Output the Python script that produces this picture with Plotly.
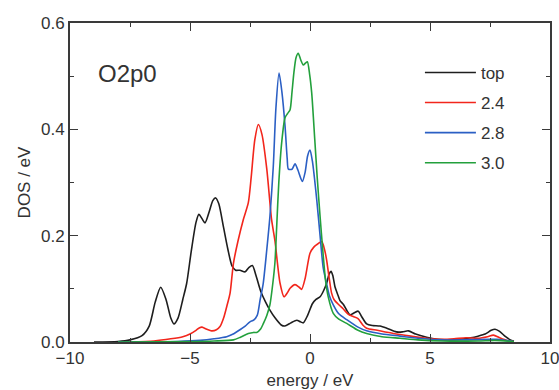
import plotly.graph_objects as go

# ---- data ----
top_x = [-9.0, -8.0, -7.5, -7.0, -6.7, -6.45, -6.22, -6.0, -5.8, -5.67, -5.5, -5.3, -5.14, -4.95, -4.75, -4.63,
         -4.5, -4.375, -4.2, -4.05, -3.93, -3.8, -3.6, -3.42, -3.25, -3.1, -2.92, -2.7, -2.55, -2.4, -2.25, -2.05,
         -1.85, -1.67, -1.45, -1.2, -1.05, -0.8, -0.55, -0.4, -0.28, -0.1, 0.1, 0.25, 0.42, 0.55, 0.69, 0.8, 0.875,
         0.95, 1.04, 1.15, 1.25, 1.4, 1.55, 1.67, 1.85, 2.01, 2.15, 2.36, 2.6, 2.92, 3.2, 3.6, 3.85, 4.1, 4.4, 4.86,
         5.3, 5.6, 6.2, 6.7, 7.0, 7.3, 7.55, 7.71, 7.9, 8.15, 8.4, 8.5]
top_y = [0.0, 0.001, 0.004, 0.012, 0.03, 0.075, 0.103, 0.08, 0.045, 0.034, 0.045, 0.08, 0.11, 0.17, 0.225, 0.24,
         0.232, 0.224, 0.245, 0.266, 0.271, 0.26, 0.215, 0.174, 0.143, 0.135, 0.135, 0.132, 0.14, 0.144, 0.125, 0.095,
         0.075, 0.060, 0.045, 0.032, 0.030, 0.036, 0.041, 0.038, 0.036, 0.05, 0.072, 0.08, 0.085, 0.095, 0.11, 0.128, 0.133,
         0.125, 0.104, 0.09, 0.078, 0.07, 0.058, 0.051, 0.055, 0.058, 0.048, 0.034, 0.031, 0.030, 0.026, 0.019, 0.019, 0.021,
         0.015, 0.009, 0.005, 0.004, 0.005, 0.008, 0.011, 0.015, 0.022, 0.024, 0.02, 0.01, 0.003, 0.002]

r24_x = [-7.5, -6.5, -5.8, -5.3, -5.0, -4.75, -4.6, -4.5, -4.3, -4.1, -3.9, -3.75, -3.6, -3.45, -3.33, -3.19, -3.0,
         -2.78, -2.57, -2.45, -2.3, -2.15, -2.0, -1.8, -1.6, -1.46, -1.25, -1.08, -0.95, -0.83, -0.625, -0.45, -0.35,
         -0.2, 0.0, 0.15, 0.28, 0.49, 0.6, 0.69, 0.8, 0.9, 1.0, 1.2, 1.39, 1.6, 1.8, 2.0, 2.2, 2.36, 2.8, 3.47, 4.2,
         4.86, 5.5, 6.0, 6.5, 7.0, 7.4, 7.64, 7.9, 8.2, 8.5]
r24_y = [0.0, 0.002, 0.006, 0.010, 0.015, 0.022, 0.027, 0.028, 0.024, 0.021, 0.023, 0.029, 0.045, 0.07, 0.092, 0.148,
         0.19, 0.230, 0.262, 0.31, 0.38, 0.409, 0.39, 0.325, 0.23, 0.19, 0.111, 0.085, 0.092, 0.101, 0.108, 0.103, 0.099,
         0.12, 0.167, 0.178, 0.183, 0.189, 0.175, 0.155, 0.12, 0.092, 0.08, 0.07, 0.062, 0.052, 0.048, 0.044, 0.032,
         0.026, 0.022, 0.016, 0.011, 0.007, 0.005, 0.006, 0.008, 0.007, 0.01, 0.013, 0.008, 0.003, 0.001]

r28_x = [-8.0, -5.5, -4.58, -4.0, -3.47, -3.2, -2.92, -2.7, -2.5, -2.35, -2.2, -2.08, -1.95, -1.8, -1.67, -1.53,
         -1.42, -1.29, -1.17, -1.04, -0.95, -0.9, -0.75, -0.625, -0.5, -0.32, -0.2, -0.1, 0.0, 0.1, 0.28, 0.42, 0.55,
         0.69, 0.8, 0.97, 1.2, 1.53, 2.0, 2.36, 3.0, 3.75, 4.5, 5.4, 6.5, 7.5, 7.8, 8.5]
r28_y = [0.0, 0.001, 0.003, 0.006, 0.010, 0.015, 0.023, 0.03, 0.038, 0.041, 0.05, 0.079, 0.11, 0.174, 0.236, 0.33,
         0.44, 0.506, 0.47, 0.406, 0.345, 0.325, 0.325, 0.335, 0.323, 0.302, 0.32, 0.35, 0.361, 0.34, 0.268, 0.2, 0.14,
         0.11, 0.088, 0.07, 0.053, 0.042, 0.028, 0.021, 0.015, 0.011, 0.007, 0.004, 0.004, 0.005, 0.005, 0.001]

r30_x = [-8.0, -5.0, -4.0, -3.19, -2.9, -2.57, -2.35, -2.22, -2.05, -1.94, -1.8, -1.67, -1.55, -1.46, -1.39, -1.3,
         -1.18, -1.04, -0.93, -0.83, -0.75, -0.67, -0.58, -0.49, -0.38, -0.28, -0.18, -0.11, -0.02, 0.07, 0.2, 0.3,
         0.42, 0.53, 0.65, 0.76, 0.97, 1.2, 1.53, 2.0, 2.36, 3.0, 3.75, 4.5, 5.5, 7.0, 7.7, 8.5]
r30_y = [0.0, 0.001, 0.002, 0.004, 0.009, 0.016, 0.018, 0.018, 0.025, 0.035, 0.05, 0.07, 0.11, 0.15, 0.215, 0.3,
         0.375, 0.422, 0.43, 0.437, 0.47, 0.507, 0.535, 0.543, 0.53, 0.521, 0.525, 0.527, 0.505, 0.469, 0.38, 0.31,
         0.236, 0.174, 0.115, 0.085, 0.054, 0.043, 0.035, 0.022, 0.016, 0.01, 0.007, 0.004, 0.002, 0.002, 0.003, 0.001]

series_names = ["top", "2.4", "2.8", "3.0"]
series_colors = ["#1e1e1e", "#f2261c", "#2b5fc4", "#23a03c"]
series_x = [top_x, r24_x, r28_x, r30_x]
series_y = [top_y, r24_y, r28_y, r30_y]

x_ticks = [-10, -5, 0, 5, 10]
y_ticks = [0.0, 0.2, 0.4, 0.6]
panel_label = "O2p0"

FONT = "Liberation Sans, Arial, Helvetica, sans-serif"
AXC = "#3a3a3a"

fig = go.Figure()
for name, col, xs, ys in zip(series_names, series_colors, series_x, series_y):
    fig.add_trace(go.Scatter(x=xs, y=ys, mode="lines", name=name, legendgroup=name,
                             line=dict(color=col, width=1.6, shape="spline", smoothing=0.7)))

fig.add_annotation(x=0.055, y=0.842, xref="paper", yref="paper", text=panel_label,
                   showarrow=False, xanchor="left", yanchor="middle",
                   font=dict(family=FONT, size=24, color="#333333"))

axis_common = dict(showline=True, linecolor=AXC, linewidth=1.8, mirror="ticks",
                   ticks="inside", tickcolor=AXC, tickwidth=1.3, ticklen=8,
                   showgrid=False, zeroline=False, automargin=False, ticklabeloverflow="allow",
                   tickfont=dict(family=FONT, size=17, color="#333333"),
                   title_font=dict(family=FONT, size=17, color="#333333"))

fig.update_xaxes(range=[-10, 10], tickvals=x_ticks, title_text="energy / eV", title_standoff=8,
                 minor=dict(dtick=2.5, tick0=0, ticks="inside", ticklen=4, tickcolor=AXC, tickwidth=1.3),
                 **axis_common)
fig.update_yaxes(range=[0, 0.6], tickvals=y_ticks, tickformat=".1f", title_text="DOS / eV", title_standoff=6,
                 minor=dict(dtick=0.1, tick0=0, ticks="inside", ticklen=4, tickcolor=AXC, tickwidth=1.3),
                 **axis_common)

fig.update_layout(
    width=559, height=390,
    margin=dict(l=70, r=9, t=23, b=48),
    paper_bgcolor="white", plot_bgcolor="white",
    showlegend=True,
    legend=dict(x=0.729, y=0.90, xanchor="left", yanchor="top", bgcolor="rgba(0,0,0,0)",
                font=dict(family=FONT, size=17, color="#333333"),
                tracegroupgap=5, itemwidth=51, traceorder="grouped"),
)

fig.write_html("out.html")
